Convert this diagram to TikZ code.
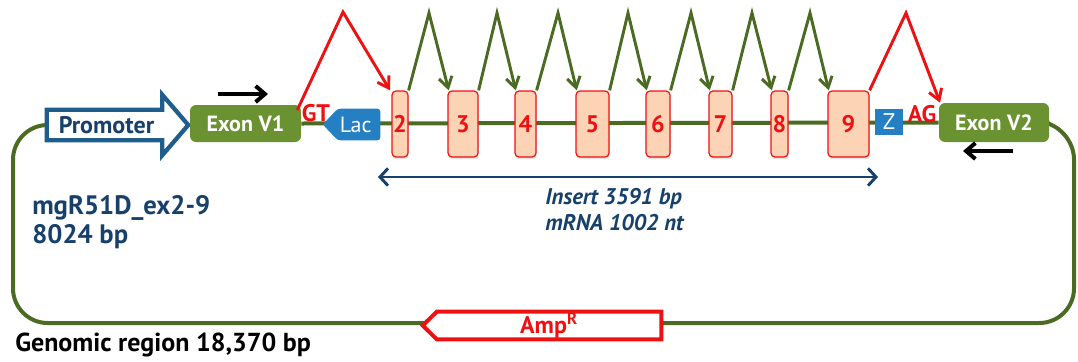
\documentclass[tikz,border=0pt]{standalone}
\usepackage{fontspec}
\setmainfont{PT Sans}
\usetikzlibrary{arrows.meta,backgrounds,calc,shadows}
\definecolor{bbgreen}{HTML}{4B6B22}
\definecolor{exgreen}{HTML}{6A9231}
\definecolor{darkblue}{HTML}{17406B}
\definecolor{promblue}{HTML}{1F5D8C}
\definecolor{lacblue}{HTML}{2580C3}
\definecolor{exred}{HTML}{EE1111}
\definecolor{exfill}{HTML}{FDD3B6}
\tikzset{
  bb/.style={draw=bbgreen, line width=3pt},
  exonv/.style={fill=exgreen, rounded corners=4.5pt, text=white, font=\bfseries\fontsize{16.5}{18}\selectfont, inner sep=0pt},
  exonbox/.style={draw=exred, fill=exfill, line width=0.9pt, rounded corners=3pt, minimum height=49.5pt, inner sep=0pt,
     text=exred, font=\bfseries\fontsize{18}{19}\selectfont,
     drop shadow={opacity=0.2, shadow xshift=0.6pt, shadow yshift=-1.8pt}},
  gspl/.style={draw=bbgreen, line width=2.2pt, -{Straight Barb[length=8pt,width=10pt]}},
  rspl/.style={draw=exred, line width=2.2pt, -{Straight Barb[length=8pt,width=10pt]}},
  blk/.style={draw=black, line width=3pt, -{Straight Barb[length=7pt,width=12pt]}},
  redtxt/.style={text=exred, font=\bfseries\fontsize{18}{20}\selectfont, inner sep=0pt},
  bluetxt/.style={text=darkblue, inner sep=0pt, align=left},
}
\begin{document}
\begin{tikzpicture}[x=0.75pt,y=-0.75pt]
\useasboundingbox (0,0) rectangle (1078,361);

% promoter (body)
\node[minimum width=86.25pt, minimum height=22.5pt, inner sep=0pt, text=darkblue,
      font=\bfseries\fontsize{18}{19}\selectfont] (prom) at (104.5,125) {\hspace*{3pt}Promoter};
% exon V1 / V2
\node[exonv, minimum width=83.25pt, minimum height=27.75pt] (ev1) at (245.5,123.5) {Exon V1};
\node[exonv, minimum width=82.5pt, minimum height=29.25pt] (ev2) at (994,122.5) {Exon V2};
% GT / AG
\node[redtxt] (gt) at (316,113) {GT};
\node[redtxt] (ag) at (922,114) {AG};
% Lac
\node[minimum width=31.5pt, minimum height=23.25pt, inner sep=0pt, text=white,
      font=\fontsize{16.5}{18}\selectfont] (lac) at (359,124.5) {\hspace*{-5pt}Lac};
% Z
\node[fill=lacblue, minimum width=21pt, minimum height=19.5pt, inner sep=0pt, text=white,
      font=\fontsize{17}{18}\selectfont] (z) at (889,122) {Z};
% exons 2-9
\node[exonbox, minimum width=12pt]    (e2) at (400,124)   {2};
\node[exonbox, minimum width=22.5pt]  (e3) at (463,124)   {3};
\node[exonbox, minimum width=15.75pt] (e4) at (525.5,124) {4};
\node[exonbox, minimum width=24.75pt] (e5) at (592.5,124) {5};
\node[exonbox, minimum width=18pt]    (e6) at (658,124)   {6};
\node[exonbox, minimum width=17.25pt] (e7) at (720.5,124) {7};
\node[exonbox, minimum width=12.75pt] (e8) at (779.5,124) {8};
\node[exonbox, minimum width=30.75pt] (e9) at (848.5,124) {9};

% peaks
\coordinate (p12) at (343,12);
\coordinate (p23) at (429,13);
\coordinate (p34) at (497,13);
\coordinate (p45) at (558,13);
\coordinate (p56) at (628,13);
\coordinate (p67) at (691,13);
\coordinate (p78) at (752,13);
\coordinate (p89) at (810,13);
\coordinate (p9v) at (906,13);

% splicing arrows
\draw[rspl] ([xshift=-3pt,yshift=-4pt]ev1.north east) -- (p12) -- ([xshift=-1pt]e2.north west);
\draw[gspl] (e2.north east) -- (p23) -- ([xshift=1pt]e3.north west);
\draw[gspl] (e3.north east) -- (p34) -- ([xshift=1pt]e4.north west);
\draw[gspl] (e4.north east) -- (p45) -- ([xshift=1pt]e5.north west);
\draw[gspl] (e5.north east) -- (p56) -- ([xshift=1pt]e6.north west);
\draw[gspl] (e6.north east) -- (p67) -- ([xshift=1pt]e7.north west);
\draw[gspl] (e7.north east) -- (p78) -- ([xshift=1pt]e8.north west);
\draw[gspl] (e8.north east) -- (p89) -- ([xshift=1pt]e9.north west);
\draw[rspl] (e9.north east) -- (p9v) -- ([xshift=1pt]ev2.north west);

% primers
\coordinate (f1) at (218,94);
\coordinate (f2) at (268,94);
\coordinate (r1) at (1013,151);
\coordinate (r2) at (963,151);
\draw[blk, drop shadow={opacity=0.25, shadow xshift=0.5pt, shadow yshift=-1.5pt}] (f1) -- (f2);
\draw[blk, drop shadow={opacity=0.25, shadow xshift=0.5pt, shadow yshift=-1.5pt}] (r1) -- (r2);

% insert arrow
\coordinate (ia) at (378,177);
\coordinate (ib) at (878,177);
\draw[draw=darkblue, line width=2.2pt, {Straight Barb[length=6pt,width=13pt]}-{Straight Barb[length=6pt,width=13pt]}] (ia) -- (ib);
\node[bluetxt, anchor=west, font=\bfseries\itshape\fontsize{17}{19.5}\selectfont] (ins) at (545,210) {Insert 3591 bp\\mRNA 1002 nt};

% left labels
\node[bluetxt, anchor=west, font=\bfseries\fontsize{20}{21.75}\selectfont] (name) at (32,222.5) {mgR51D\_ex2-9\\8024 bp};
\node[anchor=west, inner sep=0pt, font=\bfseries\fontsize{19.5}{21}\selectfont] (gen) at (15,345) {Genomic region 18,370 bp};

% AmpR
\node[minimum width=168pt, minimum height=20.25pt, inner sep=0pt, text=exred,
      font=\bfseries\fontsize{18}{20}\selectfont] (amp) at (549,325.5) {Amp\textsuperscript{R}};

\begin{scope}[on background layer]
  % backbone
  \draw[bb, rounded corners=26pt] (prom.west) -- (13,125) -- (13,323) -- (1074,323) -- (1074,125) -- (ev2.east);
  \draw[bb] (ev1.east) -- (ev2.west);
  % promoter outline
  \draw[draw=promblue, fill=white, line width=3.2pt, line join=miter]
    (prom.south west) -- (prom.north west) -- (prom.north east) -- ++(0,-15)
    -- ($(prom.east)+(26,0)$) -- ($(prom.south east)+(0,15)$) -- (prom.south east) -- cycle;
  % Lac
  \fill[lacblue, rounded corners=2pt] (lac.south east) -- (lac.north east) -- (lac.north west)
    -- ($(lac.west)+(-15,0)$) -- (lac.south west) -- cycle;
  % AmpR
  \draw[draw=exred, fill=white, line width=3pt, line join=miter]
    (amp.north east) -- (amp.north west) -- ($(amp.west)+(-14,0)$) -- (amp.south west) -- (amp.south east) -- cycle;
\end{scope}
\end{tikzpicture}
\end{document}
